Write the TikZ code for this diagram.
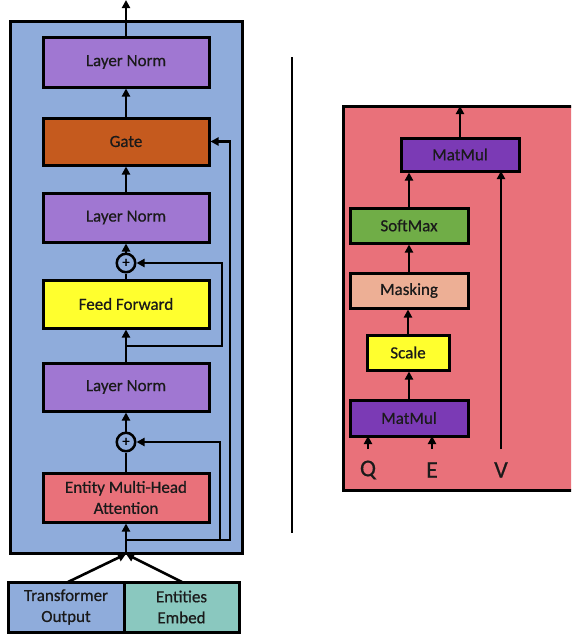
\documentclass[tikz,border=0pt]{standalone}
\usepackage{fontspec}
\setmainfont{Carlito}
\newfontfamily\boxfont{Carlito}[FakeBold=0.6]
\usetikzlibrary{arrows.meta}
\definecolor{bluebg}{HTML}{8FACDB}
\definecolor{lnpurple}{HTML}{A077D2}
\definecolor{gateor}{HTML}{C55A1E}
\definecolor{ffyel}{HTML}{FFFF2E}
\definecolor{attred}{HTML}{E9717A}
\definecolor{teal}{HTML}{8AC8BF}
\definecolor{smgreen}{HTML}{70AD47}
\definecolor{maskpeach}{HTML}{EDAF95}
\definecolor{mmpurple}{HTML}{7B3AB5}
\definecolor{txt}{HTML}{1A1A1A}
\tikzset{
  blk/.style={draw=black, line width=3pt, text=txt, font=\boxfont\fontsize{17}{21}\selectfont, align=center, inner sep=0pt},
  bigbox/.style={draw=black, line width=3pt, inner sep=0pt},
  conn/.style={draw=black, line width=2.6pt},
  arr/.style={conn, -{Triangle[length=8pt,width=8pt]}},
  plusnode/.style={circle, draw=black, line width=2.5pt, fill=bluebg, minimum size=18.5pt, inner sep=0pt, font=\boxfont\fontsize{15}{15}\selectfont},
  lbl/.style={text=txt, font=\boxfont\fontsize{24}{24}\selectfont, inner sep=0pt},
}
\begin{document}
\begin{tikzpicture}[x=1pt,y=-1pt]
\useasboundingbox (0,0) rectangle (571,637);
\clip (0,0) rectangle (571,637);
% left block
\node[bigbox, fill=bluebg, minimum width=232pt, minimum height=532pt] (enc) at (126,287.5) {};
\node[blk, fill=lnpurple, minimum width=166pt, minimum height=50pt] (ln1) at (126,62) {Layer Norm};
\node[blk, fill=gateor, minimum width=166pt, minimum height=47pt] (gate) at (126,141.5) {Gate};
\node[blk, fill=lnpurple, minimum width=166pt, minimum height=49pt] (ln2) at (126,217.5) {Layer Norm};
\node[plusnode] (plus1) at (126,263) {+};
\node[blk, fill=ffyel, minimum width=166pt, minimum height=48pt] (ff) at (126,304) {Feed Forward};
\node[blk, fill=lnpurple, minimum width=166pt, minimum height=48pt] (ln3) at (126,387) {Layer Norm};
\node[plusnode] (plus2) at (126,442) {+};
\node[blk, fill=attred, minimum width=166pt, minimum height=49pt] (emha) at (126,497.5) {Entity Multi-Head\\Attention};
\node[blk, fill=bluebg, minimum width=116pt, minimum height=50pt] (tout) at (66,607) {Transformer\\Output};
\node[blk, fill=teal, minimum width=115pt, minimum height=50pt] (ent) at (181.5,607) {Entities\\Embed};
\coordinate (out1) at (126,0);
\coordinate (in1) at (126,554);
\coordinate (br1) at (126,540);
\coordinate (br2) at (126,346);
\coordinate (toTop) at (68,582);
\coordinate (entTop) at (182,582);
% connectors left
\draw[arr] (ln1.north) -- (out1);
\draw[arr] (gate.north) -- (ln1.south);
\draw[arr] (ln2.north) -- (gate.south);
\draw[arr] (plus1.north) -- (ln2.south);
\draw[conn] (ff.north) -- (plus1.south);
\draw[arr] (ln3.north) -- (ff.south);
\draw[arr] (plus2.north) -- (ln3.south);
\draw[conn] (emha.north) -- (plus2.south);
\draw[arr] (in1) -- (emha.south);
\draw[arr] (br2) -- (222,346) -- (222,263) -- (plus1.east);
\draw[arr] (br1) -- (230,540) -- (230,141.5) -- (gate.east);
\draw[arr] (220,540) -- (220,442) -- (plus2.east);
\draw[arr] (toTop) -- (in1);
\draw[arr] (entTop) -- (in1);
% divider
\coordinate (d1) at (292,57);
\coordinate (d2) at (292,533);
\draw[line width=2pt] (d1) -- (d2);
% right block
\node[bigbox, fill=attred, minimum width=277pt, minimum height=384pt] (att) at (481.5,298) {};
\node[blk, fill=mmpurple, minimum width=118pt, minimum height=33pt] (mm2) at (460,154.5) {MatMul};
\node[blk, fill=smgreen, minimum width=118pt, minimum height=35pt] (sm) at (409,225.5) {SoftMax};
\node[blk, fill=maskpeach, minimum width=118pt, minimum height=35pt] (mask) at (409,290.5) {Masking};
\node[blk, fill=ffyel, minimum width=82pt, minimum height=35pt] (scale) at (408,352.5) {Scale};
\node[blk, fill=mmpurple, minimum width=118pt, minimum height=36pt] (mm1) at (409,418) {MatMul};
\node[lbl] (q) at (368,470) {Q};
\node[lbl] (e) at (432,470) {E};
\node[lbl] (v) at (501,470) {V};
\coordinate (attTop) at (460,106);
\draw[arr] (mm2.north) -- (attTop);
\draw[arr] (sm.north) -- (sm.north |- mm2.south);
\draw[arr] (501,449) -- (501,171);
\draw[arr] (mask.north) -- (sm.south);
\draw[arr] (scale.north) -- (scale.north |- mask.south);
\draw[arr] (mm1.north) -- (mm1.north |- scale.south);
\draw[arr] (368,449) -- (368,436);
\draw[arr] (432,449) -- (432,436);
\end{tikzpicture}
\end{document}
